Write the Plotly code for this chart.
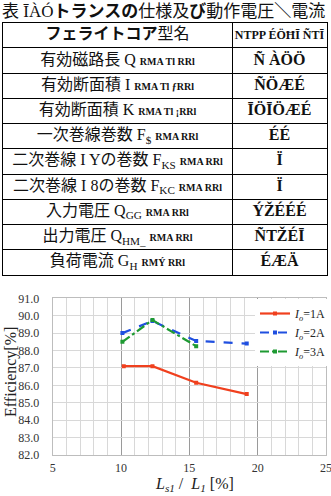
import plotly.graph_objects as go

# ---------------- data ----------------
ratio_1A = [10.2, 12.3, 15.5, 19.2]
eff_1A = [87.1, 87.1, 86.15, 85.5]
ratio_2A = [10.1, 12.3, 15.5, 19.2]
eff_2A = [89.0, 89.7, 88.55, 88.4]
ratio_3A = [10.1, 12.3, 15.5]
eff_3A = [88.5, 89.75, 88.25]
series_names = ["1A", "2A", "3A"]

caption_parts = ["表 ĪÀÓ", "トランスの", "仕様及", "び", "動作電圧", "＼", "電流"]
header_left = ["フェライトコア", "型名"]
header_right = "NTPP ÉÖĦĪ ÑTĪ"
row_titles = ["有効磁路長 Q", "有効断面積 I", "有効断面積 K", "一次巻線巻数 F",
              "二次巻線 I Yの巻数 F", "二次巻線 I 8の巻数 F", "入力電圧 Q",
              "出力電圧 Q", "負荷電流 G"]
row_subs = ["", "", "", "$", "KS", "KC", "GG", "HM_", "H"]
row_units = ["RMA Tl RRl", "RMA Tl ƒRRl", "RMA Tl ¡RRl", "RMA RRl", "RMA RRl",
             "RMA RRl", "RMA RRl", "RMA RRl", "RMÝ RRl"]
row_values = ["Ñ ÀÖÖ", "ÑÖÆÉ", "ĪÖĪÖÆÉ", "ÉÉ", "Ï", "Ï", "ÝŽÉÉÉ", "ÑTŽÉĪ", "ÉÆÄ"]
col_widths = [229, 95]

W, H = 331, 496
FONT = "Liberation Serif, Noto Sans CJK JP"

fig = go.Figure()

# ---------------- table (drawn on its own hidden axes) ----------------
left_texts = ["<b>%s</b>%s" % (header_left[0], header_left[1])]
for t, s, u in zip(row_titles, row_subs, row_units):
    txt = t
    if s:
        txt += "<sub>%s</sub>" % s
    txt += " <span style='font-size:10px'><b>%s</b></span>" % u
    left_texts.append(txt)
right_texts = ["<span style='font-size:12px'><b>%s</b></span>" % header_right] + \
    ["<b>%s</b>" % v for v in row_values]
rows_idx = list(range(len(left_texts)))
c0 = col_widths[0] / 2
c1 = col_widths[0] + col_widths[1] / 2

fig.add_trace(go.Scatter(x=[c0] * len(rows_idx), y=rows_idx, text=left_texts,
                         mode="text", textposition="middle center",
                         textfont=dict(family=FONT, size=16, color="#111"),
                         xaxis="x2", yaxis="y2", showlegend=False, hoverinfo="skip"))
fig.add_trace(go.Scatter(x=[c1] * len(rows_idx), y=rows_idx, text=right_texts,
                         mode="text", textposition="middle center",
                         textfont=dict(family=FONT, size=16, color="#111"),
                         xaxis="x2", yaxis="y2", showlegend=False, hoverinfo="skip"))

# ---------------- line chart ----------------
colors = ["#f0401e", "#1f4fe0", "#1e9a32"]
dashes = ["solid", "dash", "dashdot"]
for xs, ys, nm, col, ds in zip([ratio_1A, ratio_2A, ratio_3A], [eff_1A, eff_2A, eff_3A],
                               series_names, colors, dashes):
    fig.add_trace(go.Scatter(
        x=xs, y=ys, mode="lines+markers",
        name="<i>I</i><sub><i>o</i></sub>=%s" % nm,
        line=dict(color=col, width=2.2, dash=ds),
        marker=dict(color=col, size=4, symbol="square"),
    ))

fig.update_layout(
    width=W, height=H,
    margin=dict(l=0, r=0, t=0, b=0),
    paper_bgcolor="white", plot_bgcolor="white",
    font=dict(family=FONT, color="#222"),
    xaxis=dict(domain=[52.7 / W, 326 / W], range=[5, 25], dtick=5,
               showgrid=True, gridcolor="#9a9a9a", gridwidth=1,
               minor=dict(dtick=1, showgrid=True, gridcolor="#d8d8d8"),
               zeroline=False, showline=True, mirror=True, linecolor="#bdbdbd",
               tickfont=dict(size=12, color="#333"), ticklabelstandoff=2,
               ticklabeloverflow="allow", automargin=False),
    yaxis=dict(domain=[1 - 455 / H, 1 - 298.3 / H], range=[82, 91], dtick=1,
               tickformat=".1f", showgrid=True, gridcolor="#d8d8d8",
               zeroline=False, showline=True, mirror=True, linecolor="#bdbdbd",
               tickfont=dict(size=12, color="#333"), ticklabelstandoff=10,
               automargin=False),
    xaxis2=dict(domain=[3 / W, 327 / W], range=[0, sum(col_widths)],
                tickvals=[col_widths[0]], showgrid=True, gridcolor="#000", gridwidth=1,
                showticklabels=False, zeroline=False, showline=True, mirror=True,
                linecolor="#000", linewidth=1, anchor="y2", fixedrange=True),
    yaxis2=dict(domain=[1 - 275 / H, 1 - 22.7 / H], range=[len(rows_idx) - 0.5, -0.5],
                tickvals=[i + 0.5 for i in rows_idx[:-1]], showgrid=True, gridcolor="#000",
                gridwidth=1, showticklabels=False, zeroline=False, showline=True,
                mirror=True, linecolor="#000", linewidth=1, anchor="x2", fixedrange=True),
    legend=dict(x=1, xanchor="right", y=1 - 299 / H, yanchor="top",
                bgcolor="white", font=dict(size=12, family=FONT, color="#222"),
                itemwidth=30, tracegroupgap=0),
    annotations=[
        dict(text="".join(("<b>%s</b>" % p) if i % 2 == 1 else p
                          for i, p in enumerate(caption_parts)),
             xref="paper", yref="paper", x=0, y=1, xanchor="left", yanchor="top",
             showarrow=False, font=dict(size=17, family=FONT, color="#111")),
        dict(text="<i>L</i><sub><i>s1</i></sub> /  <i>L</i><sub><i>1</i></sub> [%]",
             xref="paper", yref="paper", x=(52.7 + 326) / 2 / W + 0.015, y=0,
             xanchor="center", yanchor="bottom", showarrow=False,
             font=dict(size=16, family=FONT, color="#222")),
        dict(text="Efficiency[%]", textangle=-90,
             xref="paper", yref="paper", x=0, y=1 - 372 / H,
             xanchor="left", yanchor="middle", showarrow=False,
             font=dict(size=16, family=FONT, color="#222")),
    ],
)

fig.write_html("out.html")
